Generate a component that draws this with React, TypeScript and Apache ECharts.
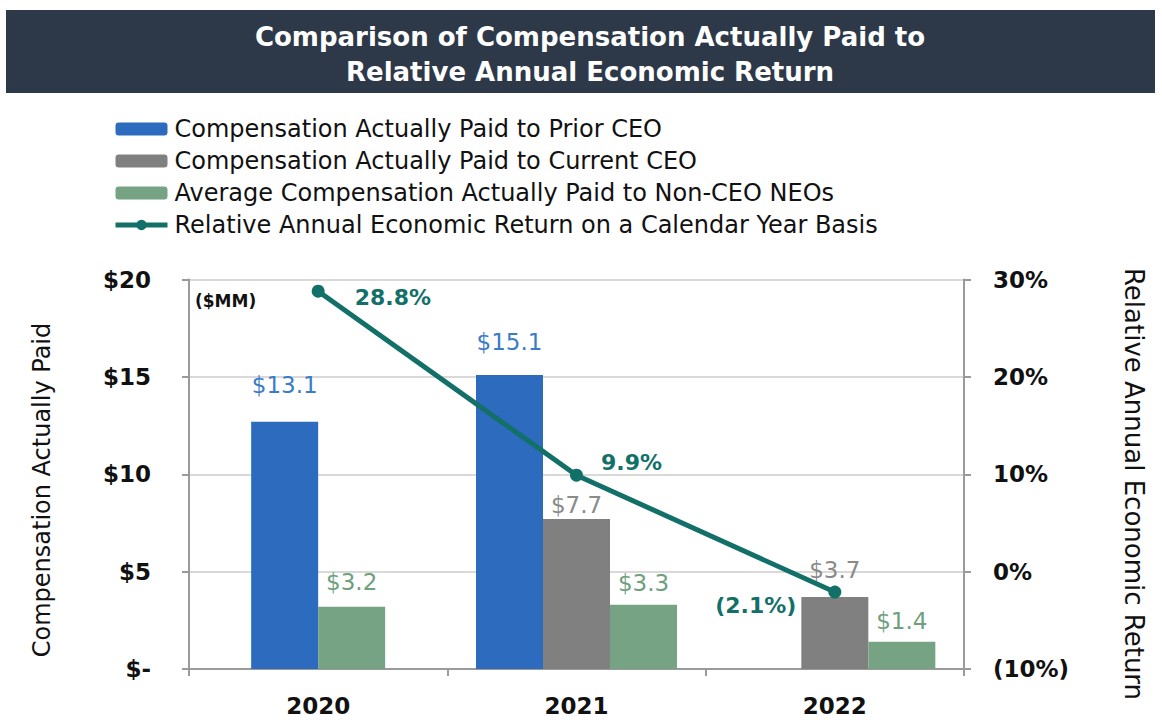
import React, { useEffect, useRef } from "react";
import * as echarts from "echarts";

const categories = ["2020", "2021", "2022"];
// bar heights as drawn
const priorCeo = [12.7, 15.1, null];
const priorCeoLabels = ["$13.1", "$15.1", ""];
const currentCeo = [null, 7.7, 3.7];
const currentCeoLabels = ["", "$7.7", "$3.7"];
const neoAvg = [3.2, 3.3, 1.4];
const neoAvgLabels = ["$3.2", "$3.3", "$1.4"];
const relReturn = [28.8, 9.9, -2.1];
const returnLabels = ["28.8%", "9.9%", "(2.1%)"];
const leftTicks = ["$-", "$5", "$10", "$15", "$20"];
const rightTicks = ["(10%)", "0%", "10%", "20%", "30%"];

const pairedYears = ["2020"]; // years drawn with two adjacent bars

const NAME_PRIOR = "Compensation Actually Paid to Prior CEO";
const NAME_CURRENT = "Compensation Actually Paid to Current CEO";
const NAME_NEO = "Average Compensation Actually Paid to Non-CEO NEOs";
const NAME_RETURN = "Relative Annual Economic Return on a Calendar Year Basis";

const BLUE = "#2C6BBD";
const BLUE_TXT = "#3B7BC8";
const GRAY = "#808080";
const GRAY_TXT = "#8A8A8A";
const GREEN = "#76A384";
const GREEN_TXT = "#6FA07E";
const TEAL = "#137069";
const FONT = "DejaVu Sans";

export default function App() {
  const ref = useRef<HTMLDivElement>(null);
  useEffect(() => {
    if (!ref.current) return;
    const chart = echarts.init(ref.current, null, { renderer: "svg" });
    const isPaired = (i: number) => pairedYears.includes(categories[i]);

    const labelStyle = (color: string) => ({
      show: true,
      position: "top",
      color,
      fontSize: 23,
      fontFamily: FONT,
    });

    // distances of the value labels above their bars, per category
    const buildBars = (
      arr: (number | null)[],
      labels: string[],
      paired: boolean,
      distances: number[]
    ) =>
      arr.map((v, i) =>
        isPaired(i) === paired && v !== null
          ? { value: v, label: { distance: distances[i], formatter: labels[i] } }
          : null
      );

    const barCommon = {
      type: "bar",
      barWidth: 67,
      barGap: "0%",
      yAxisIndex: 0,
    };

    const option: any = {
      animation: false,
      textStyle: { fontFamily: FONT },
      graphic: [
        {
          type: "rect",
          shape: { x: 6, y: 10, width: 1149, height: 83 },
          style: { fill: "#2D3949" },
          silent: true,
        },
        {
          type: "text",
          x: 590,
          y: 54,
          style: {
            text: "Comparison of Compensation Actually Paid to\nRelative Annual Economic Return",
            fill: "#fff",
            font: `bold 26px "${FONT}"`,
            lineHeight: 35,
            align: "center",
            verticalAlign: "middle",
          },
        },
        {
          type: "text",
          x: 195,
          y: 301,
          style: {
            text: "($MM)",
            fill: "#111",
            font: `bold 17px "${FONT}"`,
            verticalAlign: "middle",
          },
        },
        {
          type: "text",
          x: 42,
          y: 490,
          rotation: Math.PI / 2,
          style: {
            text: "Compensation Actually Paid",
            fill: "#111",
            font: `24px "${FONT}"`,
            align: "center",
            verticalAlign: "middle",
          },
        },
        {
          type: "text",
          x: 1134,
          y: 484,
          rotation: -Math.PI / 2,
          style: {
            text: "Relative Annual Economic Return",
            fill: "#111",
            font: `26px "${FONT}"`,
            align: "center",
            verticalAlign: "middle",
          },
        },
      ],
      legend: {
        orient: "vertical",
        left: 113,
        top: 117,
        padding: 0,
        itemWidth: 52,
        itemHeight: 13,
        itemGap: 8,
        data: [
          NAME_PRIOR,
          NAME_CURRENT,
          NAME_NEO,
          { name: NAME_RETURN, lineStyle: { width: 5, color: TEAL }, itemStyle: { color: TEAL } },
        ],
        textStyle: {
          fontSize: 24,
          lineHeight: 24,
          color: "#111",
          fontFamily: FONT,
          padding: [0, 0, 0, 2],
        },
      },
      grid: { left: 189, right: 198, top: 279.5, bottom: 51 },
      xAxis: [
        {
          type: "category",
          data: categories,
          axisLine: { lineStyle: { color: "#9A9A9A", width: 2 } },
          axisTick: { show: true, alignWithLabel: false, length: 7, lineStyle: { color: "#9A9A9A", width: 2 } },
          axisLabel: {
            color: "#111",
            fontSize: 23,
            fontWeight: "bold",
            fontFamily: FONT,
            margin: 25,
          },
        },
        { type: "category", data: categories, show: false },
      ],
      yAxis: [
        {
          type: "value",
          min: 0,
          max: 20,
          interval: 5,
          axisLine: { show: true, lineStyle: { color: "#9A9A9A", width: 2 } },
          axisTick: { show: true, length: 7, lineStyle: { color: "#9A9A9A", width: 2 } },
          splitLine: { show: true, lineStyle: { color: "#D9D9D9", width: 2 } },
          axisLabel: {
            color: "#111",
            fontSize: 23,
            fontWeight: "bold",
            fontFamily: FONT,
            margin: 38,
            formatter: (v: number) => leftTicks[Math.round(v / 5)],
          },
        },
        {
          type: "value",
          min: -10,
          max: 30,
          interval: 10,
          position: "right",
          axisLine: { show: true, lineStyle: { color: "#9A9A9A", width: 2 } },
          axisTick: { show: true, length: 7, lineStyle: { color: "#9A9A9A", width: 2 } },
          splitLine: { show: false },
          axisLabel: {
            color: "#111",
            fontSize: 23,
            fontWeight: "bold",
            fontFamily: FONT,
            margin: 29,
            formatter: (v: number) => rightTicks[Math.round((v + 10) / 10)],
          },
        },
      ],
      series: [
        // paired layout (two adjacent bars)
        {
          ...barCommon,
          name: NAME_PRIOR,
          xAxisIndex: 0,
          data: buildBars(priorCeo, priorCeoLabels, true, [25, 20, 20]),
          itemStyle: { color: BLUE },
          label: labelStyle(BLUE_TXT),
        },
        {
          ...barCommon,
          name: NAME_NEO,
          xAxisIndex: 0,
          data: buildBars(neoAvg, neoAvgLabels, true, [13, 9, 9]),
          itemStyle: { color: GREEN },
          label: labelStyle(GREEN_TXT),
        },
        // three-slot layout
        {
          ...barCommon,
          name: NAME_PRIOR,
          xAxisIndex: 1,
          data: buildBars(priorCeo, priorCeoLabels, false, [20, 21, 20]),
          itemStyle: { color: BLUE },
          label: labelStyle(BLUE_TXT),
        },
        {
          ...barCommon,
          name: NAME_CURRENT,
          xAxisIndex: 1,
          data: buildBars(currentCeo, currentCeoLabels, false, [3, 3, 15]),
          itemStyle: { color: GRAY },
          label: labelStyle(GRAY_TXT),
        },
        {
          ...barCommon,
          name: NAME_NEO,
          xAxisIndex: 1,
          data: buildBars(neoAvg, neoAvgLabels, false, [9, 10, 9]),
          itemStyle: { color: GREEN },
          label: labelStyle(GREEN_TXT),
        },
        {
          type: "line",
          name: NAME_RETURN,
          xAxisIndex: 0,
          yAxisIndex: 1,
          z: 10,
          symbol: "circle",
          symbolSize: 13,
          lineStyle: { color: TEAL, width: 5 },
          itemStyle: { color: TEAL },
          label: {
            show: true,
            color: TEAL,
            fontSize: 22,
            fontWeight: "bold",
            fontFamily: FONT,
            formatter: (p: any) => returnLabels[p.dataIndex],
          },
          data: relReturn.map((v, i) => {
            const pos = [
              { position: "right", distance: 30, offset: [0, 6] },
              { position: "right", distance: 18, offset: [0, -13] },
              { position: "left", distance: 32, offset: [0, 13] },
            ][i];
            return { value: v, label: pos };
          }),
        },
      ],
    };
    chart.setOption(option);
    return () => chart.dispose();
  }, []);
  return (
    <div
      ref={ref}
      style={{ position: "fixed", left: 0, top: 0, width: 1162, height: 720, background: "#fff" }}
    />
  );
}
